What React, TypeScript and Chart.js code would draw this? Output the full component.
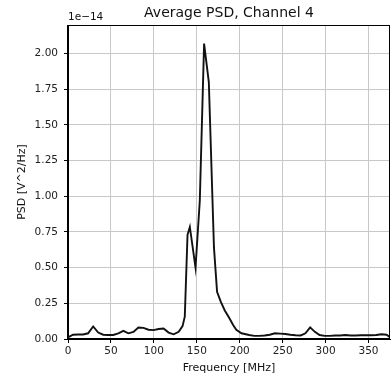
import React, { useEffect, useRef } from "react";
import { Chart, registerables } from "chart.js";

Chart.register(...registerables);

// Frequency bins [MHz]
const freqMHz = [
  0, 5.9, 11.7, 17.6, 23.4, 29.3, 35.2, 41.0, 46.9, 52.7, 58.6, 64.5, 70.3, 76.2, 82.0, 87.9,
  93.8, 99.6, 105.5, 111.3, 117.2, 123.0, 128.9, 133.4, 136.0, 139.2, 141.9, 148.5, 153.5,
  158.5, 164.0, 170.0, 173.6, 178.0, 182.6, 187.5, 192.3, 196.0, 202.0, 211.0, 217.0, 223.0,
  229.0, 235.0, 241.0, 247.0, 253.0, 259.0, 265.0, 271.0, 276.5, 282.0, 287.5, 293.0, 299.0,
  305.0, 311.0, 317.0, 323.0, 329.0, 335.0, 341.0, 347.0, 353.0, 359.0, 365.0, 371.0, 375.0,
];

// PSD values in units of 1e-14 V^2/Hz
const psdE14 = [
  0.012, 0.03, 0.032, 0.032, 0.04, 0.088, 0.045, 0.03, 0.028, 0.028, 0.04, 0.057, 0.04, 0.05,
  0.08, 0.078, 0.065, 0.062, 0.07, 0.074, 0.045, 0.033, 0.05, 0.09, 0.156, 0.73, 0.785, 0.5,
  0.97, 2.07, 1.8, 0.64, 0.33, 0.26, 0.2, 0.15, 0.098, 0.065, 0.04, 0.028, 0.022, 0.022,
  0.025, 0.03, 0.04, 0.038, 0.035, 0.03, 0.026, 0.025, 0.04, 0.082, 0.05, 0.028, 0.022,
  0.022, 0.025, 0.025, 0.028, 0.025, 0.025, 0.026, 0.026, 0.026, 0.028, 0.033, 0.03, 0.012,
];

const xTicks = [0, 50, 100, 150, 200, 250, 300, 350];
const yTicks = [0, 0.25, 0.5, 0.75, 1.0, 1.25, 1.5, 1.75, 2.0];

const titleText = "Average PSD, Channel 4";
const xLabel = "Frequency [MHz]";
const yLabel = "PSD [V^2/Hz]";
const offsetText = "1e\u221214";

const FONT = "'DejaVu Sans', sans-serif";

export default function App() {
  const ref = useRef<HTMLCanvasElement>(null);

  useEffect(() => {
    const canvas = ref.current;
    if (!canvas) return;

    const framePlugin = {
      id: "frameAndText",
      afterDraw(chart: any) {
        const { ctx, chartArea } = chart;
        const { left, top, right, bottom } = chartArea;
        ctx.save();
        ctx.strokeStyle = "#000";
        ctx.lineWidth = 1;
        ctx.strokeRect(Math.round(left) - 0.5, Math.round(top) + 0.5, Math.round(right - left), Math.round(bottom - top) - 1);
        ctx.fillStyle = "#111";
        ctx.textBaseline = "middle";
        ctx.textAlign = "center";
        ctx.font = `14px ${FONT}`;
        ctx.fillText(titleText, (left + right) / 2, 13);
        ctx.font = `11px ${FONT}`;
        ctx.fillText(xLabel, (left + right) / 2, 368);
        ctx.save();
        ctx.translate(22, (top + bottom) / 2);
        ctx.rotate(-Math.PI / 2);
        ctx.fillText(yLabel, 0, 0);
        ctx.restore();
        ctx.textAlign = "left";
        ctx.font = `10.5px ${FONT}`;
        ctx.fillText(offsetText, left, 17);
        ctx.restore();
      },
    };

    const chart = new Chart(canvas, {
      type: "line",
      data: {
        datasets: [
          {
            data: freqMHz.map((f, i) => ({ x: f, y: psdE14[i] })),
            borderColor: "#111",
            borderWidth: 1.9,
            pointRadius: 0,
            tension: 0,
            fill: false,
          },
        ],
      },
      options: {
        responsive: false,
        animation: false,
        layout: { padding: { top: 25, right: 1, left: 0, bottom: 0 } },
        plugins: {
          legend: { display: false },
          title: { display: false },
          tooltip: { enabled: false },
        },
        scales: {
          x: {
            type: "linear",
            min: 0,
            max: 375,
            afterBuildTicks: (s: any) => {
              s.ticks = xTicks.map((v) => ({ value: v }));
            },
            afterFit: (s: any) => {
              s.height = 37;
            },
            grid: { color: "#c8c8c8", lineWidth: 1, tickColor: "#000", tickLength: 4, drawTicks: true },
            border: { color: "#000", width: 1 },
            ticks: {
              font: { family: FONT, size: 10.5 },
              color: "#222",
              padding: 2,
              maxRotation: 0,
              autoSkip: false,
              callback: (v: any) => String(v),
            },
          },
          y: {
            type: "linear",
            min: 0,
            max: 2.2,
            afterBuildTicks: (s: any) => {
              s.ticks = yTicks.map((v) => ({ value: v }));
            },
            afterFit: (s: any) => {
              s.width = 68;
            },
            grid: { color: "#c8c8c8", lineWidth: 1, tickColor: "#000", tickLength: 4, drawTicks: true },
            border: { color: "#000", width: 1 },
            ticks: {
              font: { family: FONT, size: 10.5 },
              color: "#222",
              padding: 6,
              autoSkip: false,
              callback: (v: any) => Number(v).toFixed(2),
            },
          },
        },
      },
      plugins: [framePlugin],
    });

    return () => chart.destroy();
  }, []);

  return (
    <canvas
      ref={ref}
      width={391}
      height={376}
      style={{ position: "absolute", left: 0, top: 0, width: 391, height: 376, display: "block" }}
    />
  );
}
